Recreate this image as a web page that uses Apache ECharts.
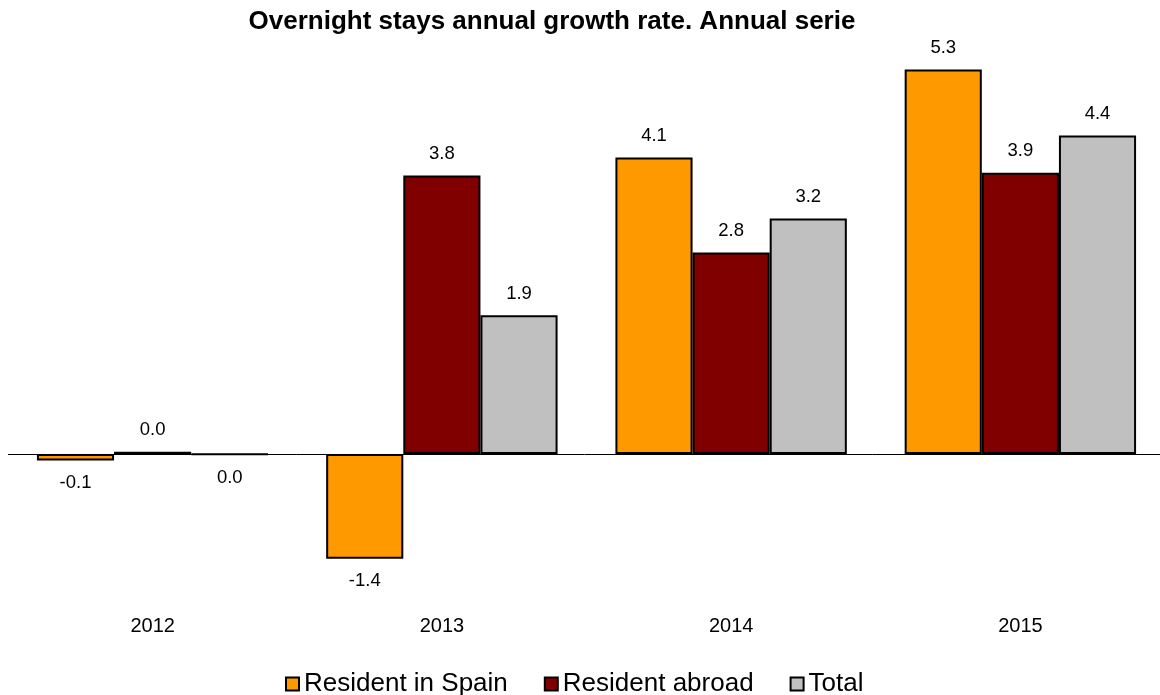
<!DOCTYPE html>
<html>
<head>
<meta charset="utf-8">
<script src="https://cdn.jsdelivr.net/npm/echarts@6/dist/echarts.min.js"></script>
<style>
html,body{margin:0;padding:0;background:#fff;}
#chart{width:1160px;height:695px;}
</style>
</head>
<body>
<div id="chart"></div>
<script>
const years = ['2012', '2013', '2014', '2015'];
const residentSpain = [-0.09, -1.44, 4.08, 5.29];
const residentAbroad = [0.03, 3.83, 2.77, 3.87];
const total = [-0.01, 1.91, 3.24, 4.38];
const seriesNames = ['Resident in Spain', 'Resident abroad', 'Total'];
const seriesColors = ['#FF9900', '#800000', '#C0C0C0'];

const FONT = '"Liberation Sans", Arial, sans-serif';

function fmt(v) {
  const s = Number(v).toFixed(1);
  return s === '-0.0' ? '0.0' : s;
}

function makeSeries(name, values, color, withLine) {
  const s = {
    name: name,
    type: 'bar',
    barGap: '0%',
    barCategoryGap: '20%',
    itemStyle: { color: color, borderColor: '#000', borderWidth: 2 },
    label: {
      show: true,
      color: '#000',
      fontFamily: FONT,
      fontSize: 18.5,
      formatter: p => fmt(p.value)
    },
    data: values.map(v => ({
      value: v,
      label: { position: v < 0 ? 'bottom' : 'top', distance: v < 0 ? 13 : 12 }
    }))
  };
  if (withLine) {
    s.markLine = {
      silent: true,
      symbol: 'none',
      label: { show: false },
      lineStyle: { color: '#000', width: 1, type: 'solid' },
      data: [{ yAxis: 0 }]
    };
  }
  return s;
}

const chart = echarts.init(document.getElementById('chart'));
chart.setOption({
  animation: false,
  backgroundColor: '#fff',
  title: {
    text: 'Overnight stays annual growth rate. Annual serie',
    left: 547,
    textAlign: 'center',
    top: 4,
    textStyle: { fontFamily: FONT, fontSize: 26, fontWeight: 'bold', color: '#000' }
  },
  legend: {
    top: 666,
    left: 280,
    itemWidth: 13,
    itemHeight: 13,
    itemGap: 36,
    icon: 'rect',
    textStyle: { fontFamily: FONT, fontSize: 26, color: '#000' },
    data: seriesNames
  },
  grid: { left: 8, width: 1157, top: 17.8, height: 581.6, containLabel: false, outerBoundsMode: 'none' },
  xAxis: {
    type: 'category',
    data: years,
    axisLine: { show: false },
    axisTick: { show: false },
    axisLabel: { margin: 17, color: '#000', fontFamily: FONT, fontSize: 20 }
  },
  yAxis: {
    type: 'value',
    min: -2,
    max: 6,
    interval: 2,
    show: false,
    splitLine: { show: false }
  },
  series: [
    makeSeries(seriesNames[0], residentSpain, seriesColors[0], true),
    makeSeries(seriesNames[1], residentAbroad, seriesColors[1], false),
    makeSeries(seriesNames[2], total, seriesColors[2], false)
  ]
});
</script>
</body>
</html>
